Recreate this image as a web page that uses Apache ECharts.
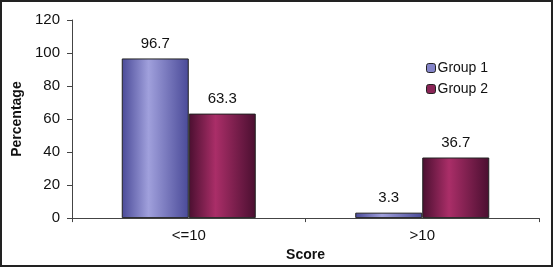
<!DOCTYPE html>
<html><head><meta charset="utf-8">
<script src="https://cdn.jsdelivr.net/npm/echarts@6/dist/echarts.min.js"></script>
<style>html,body{margin:0;padding:0;background:#fff}#c{width:553px;height:267px}</style>
</head><body><div id="c"></div>
<script>
const categories = ['<=10', '>10'];
const group1 = [96.7, 3.3];
const group2 = [63.3, 36.7];
const yTicks = [0, 20, 40, 60, 80, 100, 120];

const chart = echarts.init(document.getElementById('c'));
function grad(edge, mid) {
  return new echarts.graphic.LinearGradient(0, 0, 1, 0, [
    {offset: 0, color: edge}, {offset: 0.4, color: mid}, {offset: 1, color: edge}
  ]);
}
const font = 'Liberation Sans, Arial, sans-serif';
chart.setOption({
  animation: false,
  textStyle: {fontFamily: font},
  graphic: [{type: 'rect', shape: {x: 1, y: 1, width: 551, height: 265},
    style: {fill: 'none', stroke: '#222', lineWidth: 2}, silent: true}],
  grid: {left: 72, right: 14, top: 20, bottom: 42},
  legend: {
    orient: 'vertical', left: 421, top: 56, itemWidth: 9, itemHeight: 9, itemGap: 7,
    textStyle: {fontSize: 14, color: '#111', fontFamily: font, padding: [0, 0, 0, -3]},
    data: [
      {name: 'Group 1', itemStyle: {color: '#8484c8', borderColor: '#222', borderWidth: 1}},
      {name: 'Group 2', itemStyle: {color: '#8a2456', borderColor: '#222', borderWidth: 1}}
    ]
  },
  xAxis: {
    type: 'category', data: categories,
    name: 'Score', nameLocation: 'middle', nameGap: 26,
    nameTextStyle: {fontSize: 14, fontWeight: 'bold', color: '#111'},
    axisLine: {lineStyle: {color: '#444'}},
    axisTick: {show: true, length: 4, lineStyle: {color: '#444'}},
    axisLabel: {fontSize: 15, color: '#111', margin: 10}
  },
  yAxis: {
    type: 'value', min: yTicks[0], max: yTicks[yTicks.length - 1], interval: 20,
    name: 'Percentage', nameLocation: 'middle', nameGap: 47,
    nameTextStyle: {fontSize: 14, fontWeight: 'bold', color: '#111'},
    axisLine: {show: true, lineStyle: {color: '#444'}},
    axisTick: {show: true, length: 5, lineStyle: {color: '#444'}},
    axisLabel: {fontSize: 15, color: '#111', margin: 12},
    splitLine: {show: false}
  },
  series: [
    {name: 'Group 1', type: 'bar', data: group1, barWidth: 67, barGap: '0%',
     itemStyle: {color: grad('#4a4a98', '#a0a0dc'), borderColor: '#222', borderWidth: 1},
     label: {show: true, position: 'top', fontSize: 15, color: '#111', distance: 7}},
    {name: 'Group 2', type: 'bar', data: group2, barWidth: 67,
     itemStyle: {color: grad('#4a0f30', '#aa2e68'), borderColor: '#222', borderWidth: 1},
     label: {show: true, position: 'top', fontSize: 15, color: '#111', distance: 7}}
  ]
});
</script></body></html>
